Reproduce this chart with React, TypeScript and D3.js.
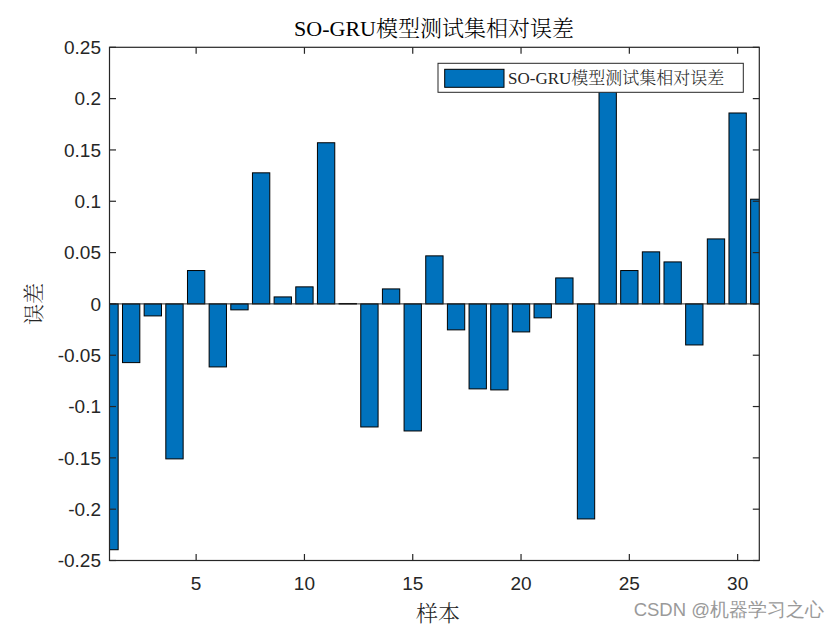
import React from "react";
import * as d3 from "d3";

const samples: number[] = Array.from({ length: 31 }, (_, i) => i + 1);
const errors: number[] = [
  -0.2395, -0.0572, -0.0117, -0.151, 0.0325, -0.0614, -0.0058, 0.1277, 0.0068, 0.0166,
  0.157, 0.0004, -0.1199, 0.0146, -0.1238, 0.0468, -0.0253, -0.0828, -0.0838, -0.0273,
  -0.0136, 0.0253, -0.2095, 0.23, 0.0325, 0.0507, 0.0409, -0.040, 0.0633, 0.186, 0.102,
];
const xTicks: number[] = [5, 10, 15, 20, 25, 30];
const yTicks: number[] = [-0.25, -0.2, -0.15, -0.1, -0.05, 0, 0.05, 0.1, 0.15, 0.2, 0.25];
const titleText = "SO-GRU模型测试集相对误差";
const legendText = "SO-GRU模型测试集相对误差";
const xLabel = "样本";
const yLabel = "误差";
const watermark = "CSDN @机器学习之心";

const W = 840;
const H = 630;
const L = 109.5;
const R = 759.3;
const T = 47.3;
const B = 560.5;
const AX = "#262626";
const BAR = "#0072BD";
const SANS = "'Liberation Sans', Arial, Helvetica, sans-serif";
const SERIF = "'Liberation Serif', 'Times New Roman', 'Noto Serif CJK SC', 'Noto Sans CJK SC', serif";

export default function App() {
  const x = d3.scaleLinear().domain([1, 31]).range([L, R]);
  const y = d3.scaleLinear().domain([-0.25, 0.25]).range([B, T]);
  const bw = (x(2) - x(1)) * 0.8;
  const tickLen = 6.5;
  const fmt = (v: number) => {
    const r = Math.round(v * 100) / 100;
    return r === 0 ? "0" : String(r);
  };

  return (
    <svg
      width={W}
      height={H}
      style={{ position: "absolute", left: 0, top: 0, background: "#fff" }}
    >
      <defs>
        <clipPath id="plot">
          <rect x={L} y={T} width={R - L} height={B - T} />
        </clipPath>
      </defs>
      <rect x={0} y={0} width={W} height={H} fill="#fff" />

      <g clipPath="url(#plot)">
        {samples.map((s, i) => {
          const v = errors[i];
          const y0 = y(0);
          const y1 = y(v);
          return (
            <rect
              key={s}
              x={x(s) - bw / 2}
              y={Math.min(y0, y1)}
              width={bw}
              height={Math.max(Math.abs(y1 - y0), 0.5)}
              fill={BAR}
              stroke="#000"
              strokeWidth={1}
            />
          );
        })}
        <line x1={L} x2={R} y1={y(0)} y2={y(0)} stroke={AX} strokeWidth={1} />
      </g>

      {/* axes box */}
      <rect x={L} y={T} width={R - L} height={B - T} fill="none" stroke={AX} strokeWidth={1.2} />

      {/* x ticks */}
      {xTicks.map((t) => (
        <g key={"xt" + t}>
          <line x1={x(t)} x2={x(t)} y1={B} y2={B - tickLen} stroke={AX} strokeWidth={1.2} />
          <line x1={x(t)} x2={x(t)} y1={T} y2={T + tickLen} stroke={AX} strokeWidth={1.2} />
          <text
            x={x(t)}
            y={590}
            textAnchor="middle"
            fontFamily={SANS}
            fontSize={19}
            fill={AX}
          >
            {t}
          </text>
        </g>
      ))}

      {/* y ticks */}
      {yTicks.map((t) => (
        <g key={"yt" + t}>
          <line x1={L} x2={L + tickLen} y1={y(t)} y2={y(t)} stroke={AX} strokeWidth={1.2} />
          <line x1={R} x2={R - tickLen} y1={y(t)} y2={y(t)} stroke={AX} strokeWidth={1.2} />
          <text
            x={101}
            y={y(t)}
            dy="0.35em"
            textAnchor="end"
            fontFamily={SANS}
            fontSize={19}
            fill={AX}
          >
            {fmt(t)}
          </text>
        </g>
      ))}

      {/* legend */}
      <rect x={438} y={63.3} width={305.3} height={29} fill="#fff" stroke={AX} strokeWidth={1} />
      <rect x={444.7} y={69.3} width={59.3} height={18} fill={BAR} stroke="#000" strokeWidth={1} />
      <text x={508} y={84} fontFamily={SERIF} fontSize={17} fontWeight={300} fill={AX}>
        {legendText}
      </text>

      {/* title */}
      <text
        x={434}
        y={36}
        textAnchor="middle"
        fontFamily={SERIF}
        fontSize={22}
        fontWeight={300}
        fill="#000"
      >
        {titleText}
      </text>

      {/* axis labels */}
      <text
        x={438}
        y={621}
        textAnchor="middle"
        fontFamily={SERIF}
        fontSize={22}
        fontWeight={300}
        fill={AX}
      >
        {xLabel}
      </text>
      <text
        transform={`translate(41, ${y(0)}) rotate(-90)`}
        textAnchor="middle"
        fontFamily={SERIF}
        fontSize={21}
        fontWeight={300}
        fill={AX}
      >
        {yLabel}
      </text>

      {/* watermark */}
      <text
        x={824}
        y={616}
        textAnchor="end"
        fontFamily={SANS}
        fontSize={18.5}
        fill="#9a9a9a"
      >
        {watermark}
      </text>
    </svg>
  );
}
